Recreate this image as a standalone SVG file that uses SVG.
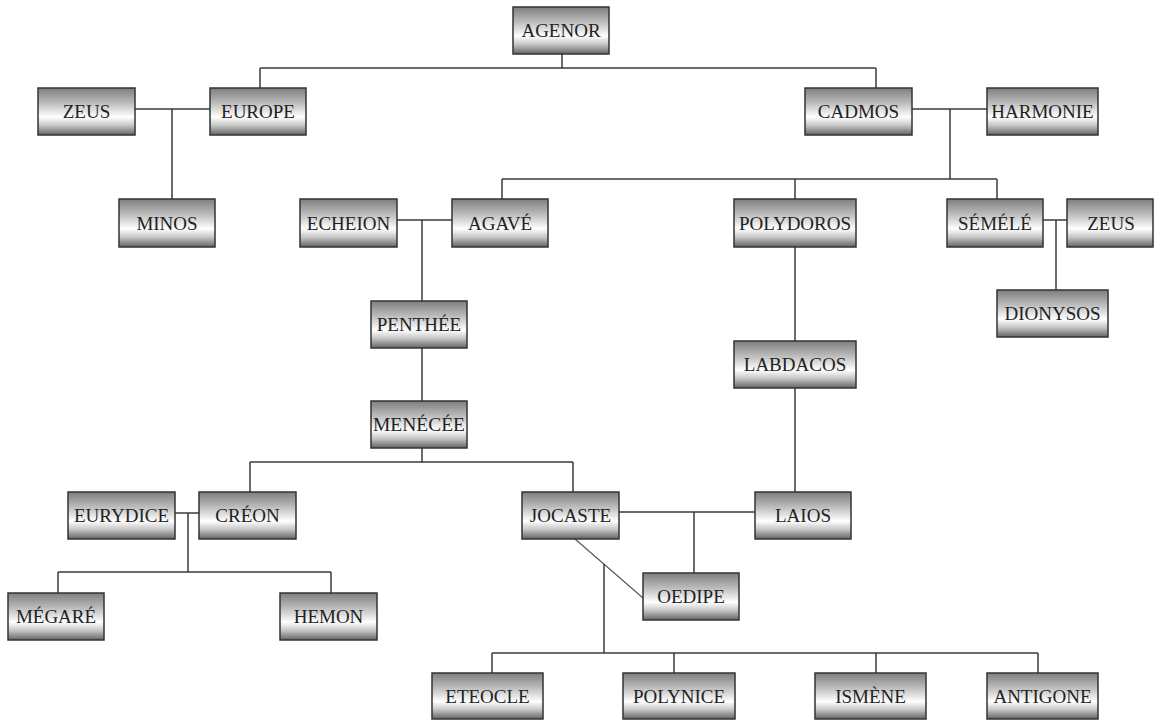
<svg xmlns="http://www.w3.org/2000/svg" width="1155" height="720" viewBox="0 0 1155 720">
<defs>
<linearGradient id="g" x1="0" y1="0" x2="0" y2="1">
<stop offset="0" stop-color="#7e7e7e"/>
<stop offset="0.3" stop-color="#b8b8b8"/>
<stop offset="0.62" stop-color="#ffffff"/>
<stop offset="0.8" stop-color="#c4c4c4"/>
<stop offset="1" stop-color="#636363"/>
</linearGradient>
</defs>
<style>
.n rect{fill:url(#g);stroke:#333;stroke-width:1.5}
.n text{font-family:"Liberation Serif","Times New Roman",serif;font-size:19px;fill:#222;text-anchor:middle}
#connectors line{stroke:#3a3a3a;stroke-width:1.5;fill:none}
#connectors .d{stroke:#555;stroke-width:1.1}
</style>
<rect width="1155" height="720" fill="#fff"/>
<g id="connectors">
<line x1="562" y1="54" x2="562" y2="68"/>
<line x1="260" y1="68" x2="876" y2="68"/>
<line x1="260" y1="68" x2="260" y2="88"/>
<line x1="876" y1="68" x2="876" y2="88"/>
<line x1="135" y1="109" x2="210" y2="109"/>
<line x1="172" y1="109" x2="172" y2="199"/>
<line x1="912" y1="109" x2="987" y2="109"/>
<line x1="950" y1="109" x2="950" y2="179"/>
<line x1="502" y1="179" x2="997" y2="179"/>
<line x1="502" y1="179" x2="502" y2="199"/>
<line x1="795" y1="179" x2="795" y2="199"/>
<line x1="997" y1="179" x2="997" y2="199"/>
<line x1="397" y1="220" x2="452" y2="220"/>
<line x1="422" y1="220" x2="422" y2="301"/>
<line x1="422" y1="348" x2="422" y2="401"/>
<line x1="422" y1="448" x2="422" y2="462"/>
<line x1="250" y1="462" x2="573" y2="462"/>
<line x1="250" y1="462" x2="250" y2="492"/>
<line x1="573" y1="462" x2="573" y2="492"/>
<line x1="1043" y1="220" x2="1067" y2="220"/>
<line x1="1056" y1="220" x2="1056" y2="290"/>
<line x1="795" y1="247" x2="795" y2="341"/>
<line x1="795" y1="388" x2="795" y2="492"/>
<line x1="175" y1="513" x2="199" y2="513"/>
<line x1="188" y1="513" x2="188" y2="572"/>
<line x1="58" y1="572" x2="331" y2="572"/>
<line x1="58" y1="572" x2="58" y2="593"/>
<line x1="331" y1="572" x2="331" y2="593"/>
<line x1="619" y1="512" x2="755" y2="512"/>
<line x1="694" y1="512" x2="694" y2="573"/>
<line class="d" x1="575" y1="539" x2="643" y2="598"/>
<line x1="604" y1="564" x2="604" y2="653"/>
<line x1="492" y1="653" x2="1038" y2="653"/>
<line x1="492" y1="653" x2="492" y2="673"/>
<line x1="674" y1="653" x2="674" y2="673"/>
<line x1="876" y1="653" x2="876" y2="673"/>
<line x1="1038" y1="653" x2="1038" y2="673"/>
</g>
<g id="agenor" class="n"><rect x="513" y="7" width="96" height="47"/><text x="561" y="37">AGENOR</text></g>
<g id="zeus1" class="n"><rect x="38" y="88" width="97" height="47"/><text x="86.5" y="118">ZEUS</text></g>
<g id="europe" class="n"><rect x="210" y="88" width="96" height="47"/><text x="258" y="118">EUROPE</text></g>
<g id="cadmos" class="n"><rect x="805" y="88" width="107" height="47"/><text x="858.5" y="118">CADMOS</text></g>
<g id="harmonie" class="n"><rect x="987" y="88" width="111" height="47"/><text x="1042.5" y="118">HARMONIE</text></g>
<g id="minos" class="n"><rect x="119" y="199" width="96" height="48"/><text x="167" y="229.5">MINOS</text></g>
<g id="echeion" class="n"><rect x="300" y="199" width="97" height="48"/><text x="348.5" y="229.5">ECHEION</text></g>
<g id="agave" class="n"><rect x="452" y="199" width="96" height="48"/><text x="500" y="229.5">AGAVÉ</text></g>
<g id="polydoros" class="n"><rect x="734" y="199" width="122" height="48"/><text x="795" y="229.5">POLYDOROS</text></g>
<g id="semele" class="n"><rect x="947" y="199" width="96" height="48"/><text x="995" y="229.5">SÉMÉLÉ</text></g>
<g id="zeus2" class="n"><rect x="1067" y="199" width="86" height="48"/><text x="1111" y="229.5">ZEUS</text></g>
<g id="dionysos" class="n"><rect x="997" y="290" width="111" height="47"/><text x="1052.5" y="320">DIONYSOS</text></g>
<g id="penthee" class="n"><rect x="371" y="301" width="96" height="47"/><text x="419" y="331">PENTHÉE</text></g>
<g id="labdacos" class="n"><rect x="734" y="341" width="122" height="47"/><text x="795" y="371">LABDACOS</text></g>
<g id="menecee" class="n"><rect x="371" y="401" width="96" height="47"/><text x="419" y="431" textLength="92" lengthAdjust="spacingAndGlyphs">MENÉCÉE</text></g>
<g id="eurydice" class="n"><rect x="68" y="492" width="107" height="47"/><text x="121.5" y="522">EURYDICE</text></g>
<g id="creon" class="n"><rect x="199" y="492" width="97" height="47"/><text x="247.5" y="522">CRÉON</text></g>
<g id="jocaste" class="n"><rect x="522" y="492" width="97" height="47"/><text x="570.5" y="522">JOCASTE</text></g>
<g id="laios" class="n"><rect x="755" y="492" width="96" height="47"/><text x="803" y="522">LAIOS</text></g>
<g id="megare" class="n"><rect x="8" y="593" width="96" height="47"/><text x="56" y="623">MÉGARÉ</text></g>
<g id="hemon" class="n"><rect x="280" y="593" width="97" height="47"/><text x="328.5" y="623">HEMON</text></g>
<g id="oedipe" class="n"><rect x="643" y="573" width="96" height="47"/><text x="691" y="603">OEDIPE</text></g>
<g id="eteocle" class="n"><rect x="432" y="673" width="111" height="46"/><text x="487.5" y="703">ETEOCLE</text></g>
<g id="polynice" class="n"><rect x="623" y="673" width="112" height="46"/><text x="679" y="703">POLYNICE</text></g>
<g id="ismene" class="n"><rect x="815" y="673" width="111" height="46"/><text x="870.5" y="703">ISMÈNE</text></g>
<g id="antigone" class="n"><rect x="987" y="673" width="111" height="46"/><text x="1042.5" y="703">ANTIGONE</text></g>
</svg>
